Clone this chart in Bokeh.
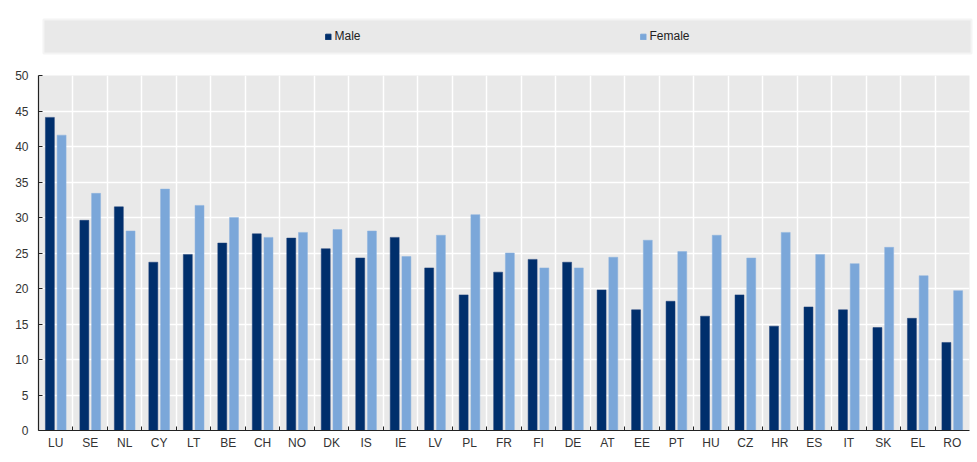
from bokeh.plotting import figure
from bokeh.models import ColumnDataSource, FixedTicker, Range1d, Legend, LegendItem
from bokeh.transform import dodge
from bokeh.layouts import column, row
from bokeh.embed import file_html
from bokeh.resources import INLINE

countries = ["LU", "SE", "NL", "CY", "LT", "BE", "CH", "NO", "DK", "IS", "IE", "LV", "PL", "FR",
             "FI", "DE", "AT", "EE", "PT", "HU", "CZ", "HR", "ES", "IT", "SK", "EL", "RO"]
male = [44.1, 29.6, 31.5, 23.7, 24.8, 26.4, 27.7, 27.1, 25.6, 24.3, 27.2, 22.9, 19.1, 22.3,
        24.1, 23.7, 19.8, 17.0, 18.2, 16.1, 19.1, 14.7, 17.4, 17.0, 14.5, 15.8, 12.4]
female = [41.6, 33.4, 28.1, 34.0, 31.7, 30.0, 27.2, 27.9, 28.3, 28.1, 24.5, 27.5, 30.4, 25.0,
          22.9, 22.9, 24.4, 26.8, 25.2, 27.5, 24.3, 27.9, 24.8, 23.5, 25.8, 21.8, 19.7]
y_ticks = [0, 5, 10, 15, 20, 25, 30, 35, 40, 45, 50]

MALE_C = "#002F6C"
FEMALE_C = "#7BA7D9"
BG = "#E9E9E9"
FONT = "Liberation Sans"

n = len(countries)
centers = [i + 0.5 for i in range(n)]
bounds = [float(i) for i in range(1, n)]
src = ColumnDataSource(dict(x=centers, male=male, female=female, c=countries))

# ---- legend band ----
p1 = figure(width=974, height=66, output_backend="svg", toolbar_location=None,
            x_axis_type=None, y_axis_type=None,
            x_range=Range1d(0, 1), y_range=Range1d(0, 1),
            min_border_left=43, min_border_right=3, min_border_top=19, min_border_bottom=13)
p1.background_fill_color = BG
p1.border_fill_color = "white"
p1.outline_line_color = "#F4F4F4"
p1.outline_line_width = 2
p1.xgrid.visible = False
p1.ygrid.visible = False
# legend-only renderers (NaN data: nothing drawn in the band itself)
dummy = ColumnDataSource(dict(x=[float("nan")], top=[float("nan")]))
rm = p1.vbar(x="x", top="top", width=0.1, source=dummy, fill_color=MALE_C, line_color=MALE_C)
rf = p1.vbar(x="x", top="top", width=0.1, source=dummy, fill_color=FEMALE_C, line_color=FEMALE_C)
leg = Legend(items=[LegendItem(label="Male", renderers=[rm]),
                    LegendItem(label="Female", renderers=[rf])],
             orientation="horizontal", location="center", spacing=279, padding=0, margin=0,
             glyph_width=7, glyph_height=7, label_standoff=3,
             background_fill_alpha=0, border_line_color=None,
             label_text_font=FONT, label_text_font_size="12px", label_text_color="#222222")
p1.add_layout(leg, "center")

# ---- main chart ----
p = figure(width=974, height=388, output_backend="svg", toolbar_location=None,
           x_range=Range1d(0, n), y_range=Range1d(0, 50),
           min_border_left=38, min_border_right=5, min_border_top=9, min_border_bottom=24)
p.background_fill_color = BG
p.border_fill_color = "white"
p.outline_line_color = None

p.vbar(x=dodge("x", -0.17), top="male", width=0.26, source=src,
       fill_color=MALE_C, line_color="#1a3f78", line_width=0.5)
p.vbar(x=dodge("x", 0.17), top="female", width=0.26, source=src,
       fill_color=FEMALE_C, line_color="#8db3df", line_width=0.5)

xt = FixedTicker(ticks=centers, minor_ticks=bounds)
p.xaxis.ticker = xt
p.xaxis.major_label_overrides = {c: lab for c, lab in zip(centers, countries)}
p.xaxis.major_tick_in = 0
p.xaxis.major_tick_out = 0
p.xaxis.minor_tick_in = 4
p.xaxis.minor_tick_out = 0
p.xaxis.minor_tick_line_color = "#222222"
p.xaxis.axis_line_color = "#222222"
p.xaxis.axis_line_width = 1.2
p.xaxis.major_label_standoff = 5
p.xaxis.major_label_text_font = FONT
p.xaxis.major_label_text_font_size = "12px"
p.xaxis.major_label_text_color = "#333333"

p.xgrid.ticker = xt
p.xgrid.grid_line_color = None
p.xgrid.minor_grid_line_color = "white"
p.xgrid.minor_grid_line_width = 1.5

p.yaxis.ticker = FixedTicker(ticks=y_ticks)
p.yaxis.major_tick_in = 4
p.yaxis.major_tick_out = 0
p.yaxis.minor_tick_line_color = None
p.yaxis.major_tick_line_color = "#222222"
p.yaxis.axis_line_color = "#222222"
p.yaxis.axis_line_width = 1.2
p.yaxis.major_label_standoff = 10
p.yaxis.major_label_text_font = FONT
p.yaxis.major_label_text_font_size = "12px"
p.yaxis.major_label_text_color = "#333333"
p.ygrid.ticker = FixedTicker(ticks=y_ticks)
p.ygrid.grid_line_color = "white"
p.ygrid.grid_line_width = 1.5

layout = column(row(p1), row(p), spacing=0)
open("out.html", "w").write(file_html(layout, INLINE))
